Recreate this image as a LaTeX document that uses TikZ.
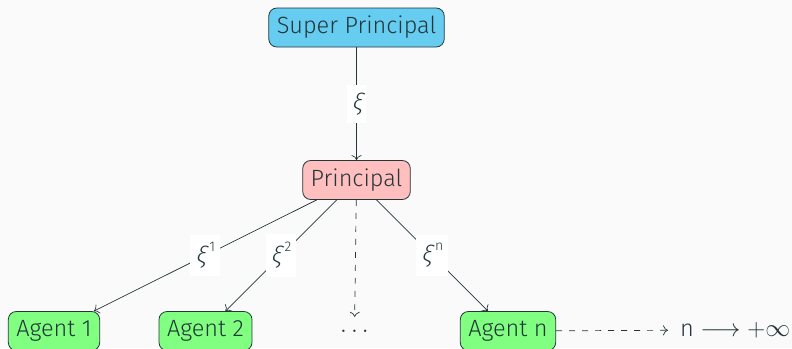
\documentclass[tikz,border=0pt]{standalone}
\usepackage{fontspec}
\setmainfont{Fira Sans Light}
\newfontfamily\slantfira[FakeSlant=0.22]{Fira Sans Light}
\usetikzlibrary{arrows.meta}
\definecolor{ink}{HTML}{23373B}
\definecolor{bgpaper}{HTML}{FAFAFA}
\definecolor{topfill}{RGB}{102,204,240}
\definecolor{midfill}{RGB}{255,191,191}
\definecolor{leaffill}{RGB}{128,255,128}
\newcommand{\xisym}{{\slantfira ξ}}
\newcommand{\xilabel}[1]{\xisym\,\raisebox{0.5em}{\fontsize{14}{14}\selectfont #1}}
\begin{document}
\begin{tikzpicture}[x=1pt,y=-1pt,
  every node/.style={text=ink},
  bigtext/.style={font=\fontsize{23.5}{28}\selectfont},
  box/.style={draw=ink, line width=0.8pt, rounded corners=8pt, minimum height=39pt,
    inner xsep=8pt, bigtext},
  topbox/.style={box, fill=topfill},
  midbox/.style={box, fill=midfill},
  leafbox/.style={box, fill=leaffill},
  wire/.style={draw=ink, line width=0.7pt, -{To[length=5pt,width=10pt]}},
  dashwire/.style={wire, dash pattern=on 6pt off 7pt},
  tag/.style={fill=white, inner xsep=5pt, inner ysep=8pt, bigtext}
]
\useasboundingbox[fill=bgpaper] (0,0) rectangle (792,348);

\node[topbox]  (sp) at (356.5,27.5) {Super Principal};
\node[midbox]  (p)  at (356.5,180)  {Principal};
\node[leafbox] (a1) at (54,331)     {Agent 1};
\node[leafbox] (a2) at (205.5,331)  {Agent 2};
\node[leafbox] (an) at (508,331)    {Agent n};
\node[bigtext, minimum height=28pt, inner sep=0pt] (dots) at (354.5,331) {$\dots$};
\node[bigtext, anchor=west, inner xsep=12pt] (lim) at (668,330)
  {n $\longrightarrow +\infty$};

\draw[wire] (sp) -- node[tag] {\xisym} (p);
\draw[wire] (p) -- node[tag] {\xilabel{1}} (a1);
\draw[wire] (p) -- node[tag] {\xilabel{2}} (a2);
\draw[dashwire] (p) -- (dots);
\draw[wire] (p) -- node[tag] {\xilabel{n}} (an);
\draw[dashwire] (an) -- (lim);
\end{tikzpicture}
\end{document}
